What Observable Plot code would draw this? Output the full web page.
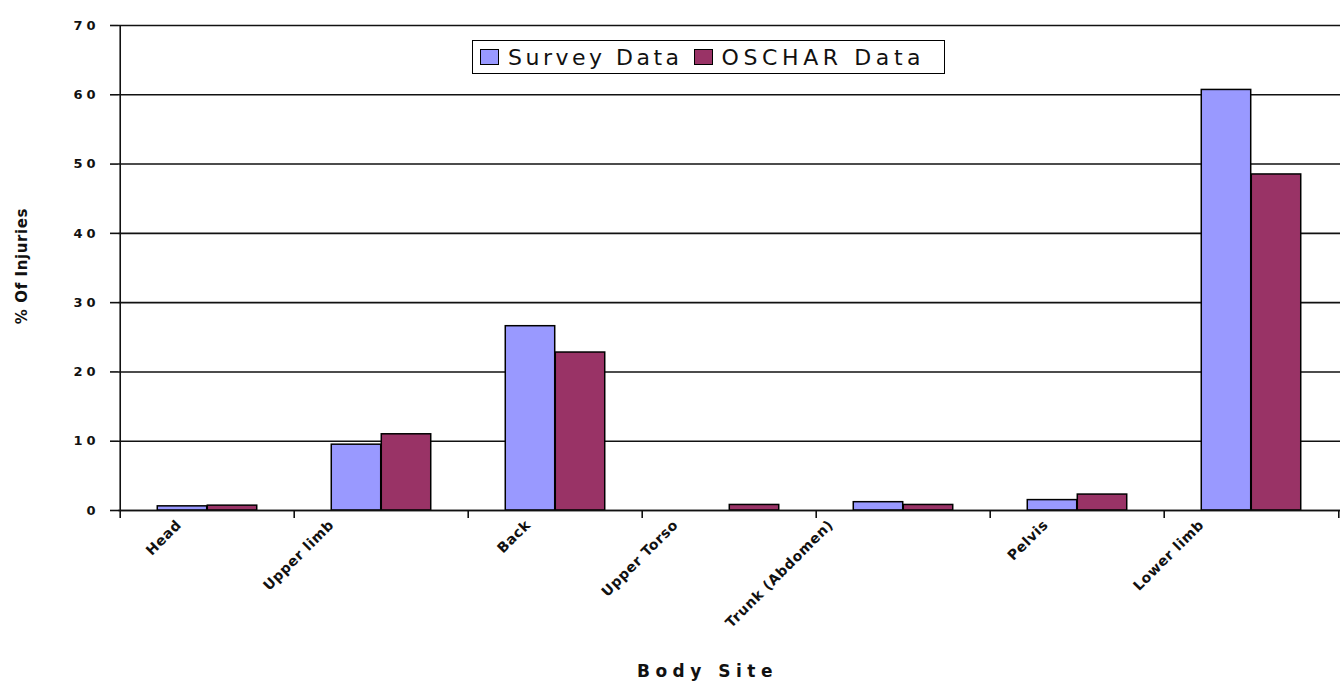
<!DOCTYPE html>
<html>
<head>
<meta charset="utf-8">
<script src="https://cdn.jsdelivr.net/npm/d3@7"></script>
<script src="https://cdn.jsdelivr.net/npm/@observablehq/plot@0.6"></script>
<style>
  html, body { margin: 0; padding: 0; background: #fff; }
  #wrap { position: relative; width: 1344px; height: 693px; }
  #legend {
    position: absolute; left: 472px; top: 40px; width: 471px; height: 32px;
    border: 1.5px solid #000; background: #fff; box-sizing: content-box;
    display: flex; align-items: center; font-family: "DejaVu Sans", sans-serif;
    font-size: 22px; letter-spacing: 3.5px; color: #111; white-space: nowrap;
  }
  #legend .sw { display: inline-block; width: 17px; height: 14px; border: 1.5px solid #000; margin-right: 9px; }
  #legend .lab1 { letter-spacing: 4.6px; }
  g[aria-description="ytick"] text { letter-spacing: 4px; }
  g[aria-description="xtick"] text { letter-spacing: 0.6px; }
  g[aria-description="xtitle"] text { letter-spacing: 5.5px; }
  g[aria-description="ytitle"] text { letter-spacing: 0.6px; }
</style>
</head>
<body>
<div id="wrap"></div>
<script>
const categories = ["Head", "Upper limb", "Back", "Upper Torso", "Trunk (Abdomen)", "Pelvis", "Lower limb"];
const seriesNames = ["Survey Data", "OSCHAR Data"];
const surveyValues = [0.6, 9.5, 26.6, 0, 1.2, 1.5, 60.7];
const oscharValues = [0.7, 11.0, 22.8, 0.8, 0.8, 2.3, 48.5];
const yTicks = [0, 10, 20, 30, 40, 50, 60, 70];
const xTitle = "Body Site";
const yTitle = "% Of Injuries";
const colors = ["#9999ff", "#993366"];

const W = 1344, H = 693, mL = 118, mR = 4, mT = 25, mB = 183;
const bw = (W - mL - mR) / categories.length;
const barW = bw * 0.2865;
const outer = bw * 0.2135;

const surveyRows = categories.map((c, i) => ({site: c, value: surveyValues[i]}));
const oscharRows = categories.map((c, i) => ({site: c, value: oscharValues[i]}));

// measure label widths so long labels shift left like the original layout
const tickFont = "bold 14px 'DejaVu Sans'";
const tickSpacing = 0.6;
const ctx = document.createElement("canvas").getContext("2d");
ctx.font = tickFont;
const labelLen = c => ctx.measureText(c).width + tickSpacing * c.length;

const tickLabelMarks = categories.map(c =>
  Plot.text([c], {x: d => d, y: 0, text: d => d, textAnchor: "end", rotate: -45,
    dx: -10 - 0.43 * labelLen(c), dy: 12, fontSize: 14, fontWeight: "bold", fill: "#111",
    ariaDescription: "xtick"})
);

const chart = Plot.plot({
  width: W, height: H,
  marginLeft: mL, marginRight: mR, marginTop: mT, marginBottom: mB,
  style: {fontFamily: "DejaVu Sans, sans-serif", background: "#fff", color: "#111"},
  x: {type: "band", domain: categories, padding: 0, axis: null},
  y: {domain: [0, 70], axis: null},
  marks: [
    Plot.gridY(yTicks, {stroke: "#111", strokeOpacity: 1, strokeWidth: 1.6}),
    Plot.axisY(yTicks, {tickSize: 8, tickPadding: 11, fontSize: 13, fontWeight: "bold", label: null, stroke: "#111", strokeWidth: 1.6, ariaDescription: "ytick"}),
    Plot.ruleX([categories[0]], {dx: -bw / 2, stroke: "#111", strokeWidth: 1.6}),
    Plot.ruleX(categories, {x: d => d, y1: 0, y2: 0, dx: -bw / 2, insetBottom: -8, stroke: "#111", strokeWidth: 1.6}),
    Plot.ruleX([categories[categories.length - 1]], {x: d => d, y1: 0, y2: 0, dx: bw / 2, insetBottom: -8, stroke: "#111", strokeWidth: 1.6}),
    Plot.barY(surveyRows, {x: "site", y: "value", fill: colors[0], stroke: "#000", strokeWidth: 1.5, insetLeft: outer, insetRight: bw - outer - barW}),
    Plot.barY(oscharRows, {x: "site", y: "value", fill: colors[1], stroke: "#000", strokeWidth: 1.5, insetLeft: outer + barW, insetRight: outer}),
    Plot.ruleY([0], {stroke: "#111", strokeWidth: 1.6}),
    ...tickLabelMarks,
    Plot.text([xTitle], {frameAnchor: "bottom", text: d => d, dx: -22, dy: 166, fontSize: 17, fontWeight: "bold", fill: "#111", ariaDescription: "xtitle"}),
    Plot.text([yTitle], {frameAnchor: "left", textAnchor: "middle", text: d => d, dx: -96, dy: -2, rotate: -90, fontSize: 15, fontWeight: "bold", fill: "#111", ariaDescription: "ytitle"})
  ]
});

const wrap = document.getElementById("wrap");
wrap.appendChild(chart);

const legend = document.createElement("div");
legend.id = "legend";
seriesNames.forEach((name, i) => {
  const sw = document.createElement("span");
  sw.className = "sw";
  sw.style.background = colors[i];
  sw.style.marginLeft = i === 0 ? "7px" : "11px";
  const lab = document.createElement("span");
  lab.className = "lab" + i;
  lab.textContent = name;
  legend.appendChild(sw);
  legend.appendChild(lab);
});
wrap.appendChild(legend);
</script>
</body>
</html>
